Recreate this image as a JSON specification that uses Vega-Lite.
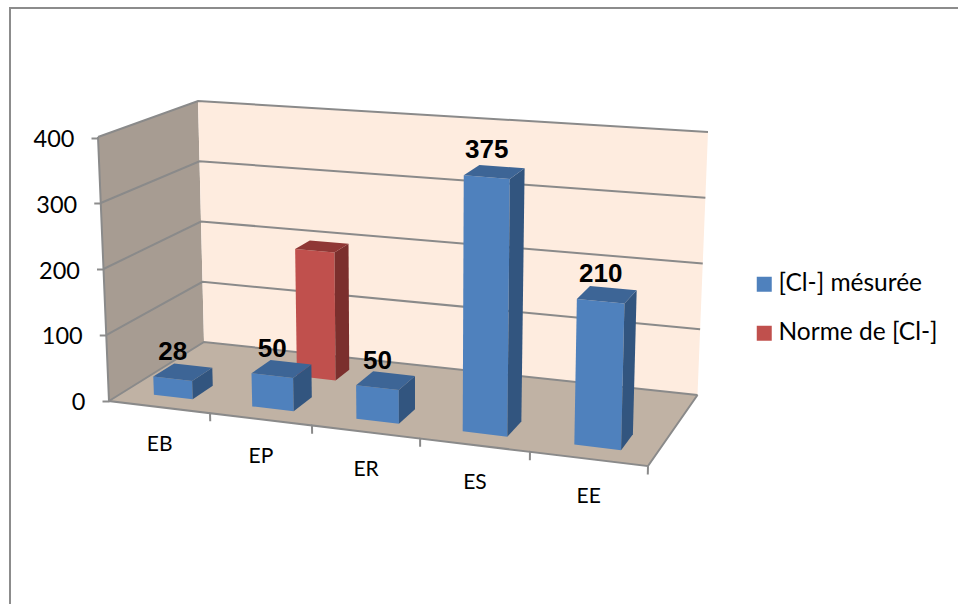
{
  "$schema": "https://vega.github.io/schema/vega-lite/v6.json",
  "width": 950,
  "height": 597,
  "autosize": {"type": "none"},
  "padding": {"left": 10, "top": 8, "right": 0, "bottom": 0},
  "background": "white",
  "view": {"stroke": "#8c8c8c", "strokeWidth": 2, "fill": null},
  "data": {
    "values": [
      {"part": "leftWall"},
      {"part": "backWall"},
      {"part": "floor"},
      {"part": "grid", "value": 0},
      {"part": "grid", "value": 100},
      {"part": "grid", "value": 200},
      {"part": "grid", "value": 300},
      {"part": "grid", "value": 400},
      {"part": "edge"},
      {"part": "bar", "category": "EP", "series": "Norme de [Cl-]", "value": 200},
      {"part": "bar", "category": "EB", "series": "[Cl-] mésurée", "value": 28},
      {"part": "bar", "category": "EP", "series": "[Cl-] mésurée", "value": 50},
      {"part": "bar", "category": "ER", "series": "[Cl-] mésurée", "value": 50},
      {"part": "bar", "category": "ES", "series": "[Cl-] mésurée", "value": 375},
      {"part": "bar", "category": "EE", "series": "[Cl-] mésurée", "value": 210}
    ]
  },
  "transform": [
    {"calculate": "indexof(['EB','EP','ER','ES','EE'], datum.category)", "as": "i"},
    {"calculate": "datum.series === 'Norme de [Cl-]' ? 0.66 : 0.165", "as": "d0"},
    {"calculate": "datum.series === 'Norme de [Cl-]' ? 0.83 : 0.39", "as": "d1"},
    {"calculate": "datum.series === 'Norme de [Cl-]' ? 1.23 : [0.275, 1.2, 2.18, 3.18, 4.23][datum.i]", "as": "u0"},
    {"calculate": "datum.series === 'Norme de [Cl-]' ? 1.61 : [0.64, 1.59, 2.58, 3.6, 4.67][datum.i]", "as": "u1"},
    {
      "calculate": "datum.part === 'leftWall' ? [{kind:'plane', key:'leftWall', pts:[[0,0,0],[0,1,0],[0,1,400],[0,0,400],[0,0,0]]}] : datum.part === 'backWall' ? [{kind:'plane', key:'backWall', pts:[[0,1,0],[5,1,0],[5,1,400],[0,1,400],[0,1,0]]}] : datum.part === 'floor' ? [{kind:'plane', key:'floor', pts:[[0,0,0],[5,0,0],[5,1,0],[0,1,0],[0,0,0]]}] : datum.part === 'grid' ? [{kind:'line', key:'grid', pts:[[0,0,datum.value],[0,1,datum.value],[5,1,datum.value]]}] : datum.part === 'edge' ? [{kind:'line', key:'edge', pts:[[0,0,400],[0,0,0],[0.937,0,0],[0.937,0,-12],[0.937,0,0],[1.883,0,0],[1.883,0,-12],[1.883,0,0],[2.886,0,0],[2.886,0,-12],[2.886,0,0],[3.905,0,0],[3.905,0,-12],[3.905,0,0],[5,0,0],[5,0,-12],[5,0,0],[5,1,0]]}] : [{kind:'face', key:datum.series, pts:[[datum.u0,datum.d0,0],[datum.u1,datum.d0,0],[datum.u1,datum.d0,datum.value],[datum.u0,datum.d0,datum.value],[datum.u0,datum.d0,0]]}, {kind:'face', key:datum.series + ' côté', pts:[[datum.u1,datum.d0,0],[datum.u1,datum.d1,0],[datum.u1,datum.d1,datum.value],[datum.u1,datum.d0,datum.value],[datum.u1,datum.d0,0]]}, {kind:'face', key:datum.series + ' dessus', pts:[[datum.u0,datum.d0,datum.value],[datum.u1,datum.d0,datum.value],[datum.u1,datum.d1,datum.value],[datum.u0,datum.d1,datum.value],[datum.u0,datum.d0,datum.value]]}, {kind:'valueLabel', key:datum.series, pts:[[(datum.u0+datum.u1)/2,datum.d0,datum.value]]}, {kind:'categoryLabel', key:datum.series, pts:[[[0.47, 1.41, 2.385, 3.395, 4.45][datum.i],0,0]]}]",
      "as": "polys"
    },
    {"flatten": ["polys"]},
    {"calculate": "datum.polys.kind", "as": "kind"},
    {"calculate": "datum.polys.key", "as": "fillKey"},
    {"calculate": "datum.part + '|' + datum.category + '|' + datum.series + '|' + datum.value + '|' + datum.polys.key", "as": "polyId"},
    {"calculate": "datum.polys.pts", "as": "pts"},
    {"flatten": ["pts"]},
    {"window": [{"op": "row_number", "as": "k"}]},
    {"calculate": "datum.pts[0] / 5", "as": "U"},
    {"calculate": "datum.pts[1]", "as": "D"},
    {"calculate": "datum.pts[2] / 400", "as": "H"},
    {
      "calculate": "(1-datum.H)*((1-datum.D)*((1-datum.U)*109+datum.U*648)+datum.D*((1-datum.U)*204+datum.U*697.5))+datum.H*((1-datum.D)*((1-datum.U)*98+datum.U*655)+datum.D*((1-datum.U)*198+datum.U*708))",
      "as": "sx"
    },
    {
      "calculate": "(1-datum.H)*((1-datum.D)*((1-datum.U)*401+datum.U*466)+datum.D*((1-datum.U)*342+datum.U*395))+datum.H*((1-datum.D)*((1-datum.U)*137+datum.U*182)+datum.D*((1-datum.U)*101+datum.U*132))",
      "as": "sy"
    },
    {"calculate": "(400.5 - datum.sy) / 0.6575", "as": "level"}
  ],
  "encoding": {
    "x": {"field": "sx", "type": "quantitative", "axis": null, "scale": {"domain": [10, 960], "nice": false, "zero": false}},
    "y": {
      "field": "level",
      "type": "quantitative",
      "scale": {"domain": [-311, 597], "nice": false, "zero": false},
      "axis": {
        "title": null,
        "values": [0, 100, 200, 300, 400],
        "orient": "left",
        "offset": -88,
        "grid": false,
        "domain": false,
        "ticks": true,
        "tickSize": 7,
        "tickColor": "#8c8c8c",
        "tickWidth": 2,
        "labelPadding": 17,
        "labelFont": "Lato",
        "labelFontSize": 23.5,
        "labelColor": "#000000",
        "labelOffset": 2,
        "encoding": {
          "labels": {"dx": {"value": {"expr": "(400 - datum.value) * 0.0275"}}},
          "ticks": {
            "x": {"value": {"expr": "(400 - datum.value) * 0.0275"}},
            "x2": {"value": {"expr": "(400 - datum.value) * 0.0275 - 7"}}
          }
        }
      }
    }
  },
  "layer": [
    {
      "transform": [{"filter": "datum.kind === 'plane'"}],
      "mark": {"type": "line", "strokeWidth": 0, "interpolate": "linear"},
      "encoding": {
        "fill": {"field": "fillKey", "type": "nominal"},
        "detail": {"field": "polyId"},
        "order": {"field": "k", "type": "quantitative"}
      }
    },
    {
      "transform": [{"filter": "datum.kind === 'line'"}],
      "mark": {"type": "line", "stroke": "#8a8a8a", "strokeWidth": 2, "interpolate": "linear"},
      "encoding": {
        "detail": {"field": "polyId"},
        "order": {"field": "k", "type": "quantitative"}
      }
    },
    {
      "transform": [{"filter": "datum.kind === 'face'"}],
      "mark": {"type": "line", "strokeWidth": 0, "interpolate": "linear"},
      "encoding": {
        "fill": {
          "field": "fillKey",
          "type": "nominal",
          "scale": {
            "domain": ["[Cl-] mésurée", "Norme de [Cl-]", "[Cl-] mésurée côté", "[Cl-] mésurée dessus", "Norme de [Cl-] côté", "Norme de [Cl-] dessus", "leftWall", "backWall", "floor"],
            "range": ["#4f81bd", "#c0504d", "#32557f", "#3d6596", "#7b2f2d", "#8f3735", "#a79c92", "#feecdf", "#c0b2a4"]
          },
          "legend": {
            "values": ["[Cl-] mésurée", "Norme de [Cl-]"],
            "title": null,
            "orient": "none",
            "legendX": 742,
            "legendY": 264,
            "symbolType": "square",
            "symbolSize": 225,
            "symbolStrokeWidth": 0,
            "labelFont": "Lato",
            "labelFontSize": 24.5,
            "labelColor": "#000000",
            "labelOffset": 2,
            "rowPadding": 24,
            "labelLimit": 220
          }
        },
        "detail": {"field": "polyId"},
        "order": {"field": "k", "type": "quantitative"}
      }
    },
    {
      "transform": [{"filter": "datum.kind === 'valueLabel' && datum.series === '[Cl-] mésurée'"}],
      "mark": {"type": "text", "font": "Liberation Sans", "fontWeight": "bold", "fontSize": 26, "dy": -27, "color": "#000000", "baseline": "middle"},
      "encoding": {"text": {"field": "value", "type": "quantitative"}}
    },
    {
      "transform": [{"filter": "datum.kind === 'categoryLabel' && datum.series === '[Cl-] mésurée'"}],
      "mark": {"type": "text", "font": "Lato", "fontSize": 21, "dy": 38, "color": "#000000", "baseline": "middle"},
      "encoding": {"text": {"field": "category", "type": "nominal"}}
    }
  ]
}
